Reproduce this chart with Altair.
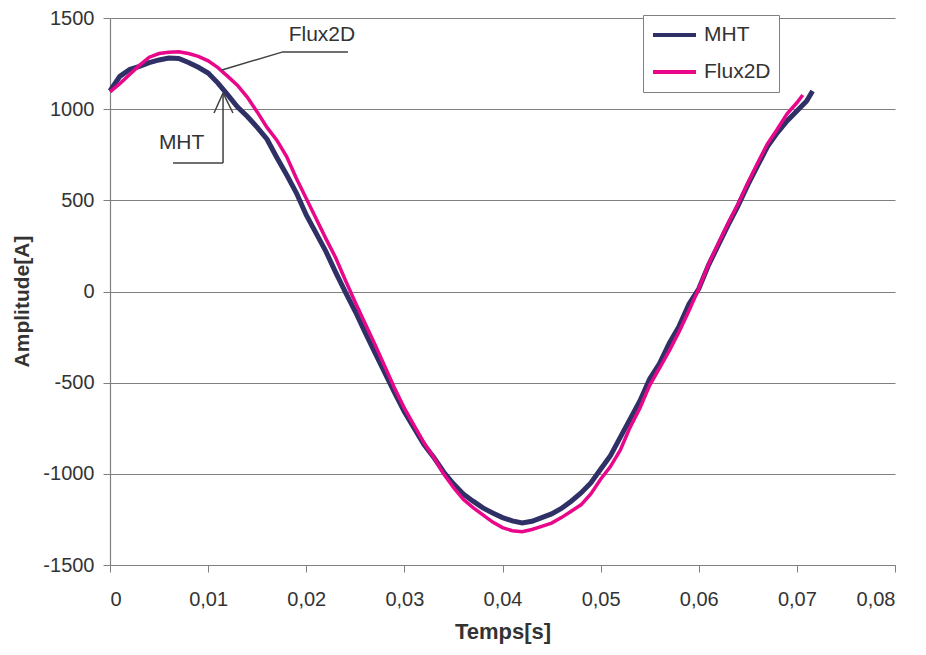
import altair as alt
import pandas as pd

# ---- data ----
t_mht = [0.000, 0.001, 0.002, 0.003, 0.004, 0.005, 0.006, 0.007, 0.008, 0.009,
         0.010, 0.011, 0.012, 0.013, 0.014, 0.015, 0.016, 0.017, 0.018, 0.019,
         0.020, 0.021, 0.022, 0.023, 0.024, 0.025, 0.026, 0.027, 0.028, 0.029,
         0.030, 0.031, 0.032, 0.033, 0.034, 0.035, 0.036, 0.037, 0.038, 0.039,
         0.040, 0.041, 0.042, 0.043, 0.044, 0.045, 0.046, 0.047, 0.048, 0.049,
         0.050, 0.051, 0.052, 0.053, 0.054, 0.055, 0.056, 0.057, 0.058, 0.059,
         0.060, 0.061, 0.062, 0.063, 0.064, 0.065, 0.066, 0.067, 0.068, 0.069,
         0.070, 0.071, 0.0716]
v_mht = [1100, 1180, 1218, 1235, 1255, 1270, 1280, 1278, 1256, 1230,
         1198, 1143, 1078, 1012, 960, 900, 835, 735, 640, 540,
         420, 320, 220, 105, -5, -110, -225, -335, -445, -555,
         -660, -750, -840, -910, -990, -1055, -1110, -1150, -1187, -1215,
         -1240, -1258, -1270, -1260, -1240, -1220, -1190, -1150, -1105, -1050,
         -975, -900, -800, -700, -600, -480, -395, -283, -190, -70,
         15, 145, 255, 365, 470, 585, 690, 795, 870, 935,
         990, 1045, 1100]

t_flux = [0.000, 0.001, 0.002, 0.003, 0.004, 0.005, 0.006, 0.007, 0.008, 0.009,
          0.010, 0.011, 0.012, 0.013, 0.014, 0.015, 0.016, 0.017, 0.018, 0.019,
          0.020, 0.021, 0.022, 0.023, 0.024, 0.025, 0.026, 0.027, 0.028, 0.029,
          0.030, 0.031, 0.032, 0.033, 0.034, 0.035, 0.036, 0.037, 0.038, 0.039,
          0.040, 0.041, 0.042, 0.043, 0.044, 0.045, 0.046, 0.047, 0.048, 0.049,
          0.050, 0.051, 0.052, 0.053, 0.054, 0.055, 0.056, 0.057, 0.058, 0.059,
          0.060, 0.061, 0.062, 0.063, 0.064, 0.065, 0.066, 0.067, 0.068, 0.069,
          0.070, 0.0706]
v_flux = [1095, 1140, 1190, 1240, 1285, 1305, 1312, 1315, 1305, 1290,
          1265, 1228, 1180, 1130, 1065, 985, 900, 830, 740, 620,
          510, 400, 290, 185, 60, -60, -175, -290, -410, -530,
          -640, -735, -830, -910, -1000, -1075, -1140, -1185, -1225, -1265,
          -1295, -1312, -1318, -1305, -1288, -1270, -1240, -1205, -1170, -1110,
          -1030, -960, -870, -745, -640, -515, -420, -325, -220, -105,
          15, 150, 265, 375, 480, 595, 705, 810, 890, 975,
          1035, 1078]

series = ["MHT", "Flux2D"]
colors = ["#2E3066", "#E8078A"]

# annotation labels and leader lines (data coordinates)
ann_text = ["Flux2D", "MHT"]
ann_tx = [0.0216, 0.0073]
ann_ty = [1407, 814]
seg_x1 = [0.02425, 0.01753, 0.00642, 0.01152, 0.01060, 0.01253]
seg_y1 = [1313, 1313, 705, 705, 979, 979]
seg_x2 = [0.01753, 0.01141, 0.01152, 0.01152, 0.01152, 0.01152]
seg_y2 = [1313, 1215, 705, 1089, 1089, 1089]

df_mht = pd.DataFrame({"t": t_mht, "v": v_mht, "s": "MHT"})
df_flux = pd.DataFrame({"t": t_flux, "v": v_flux, "s": "Flux2D"})
df_ann = pd.DataFrame({"label": ann_text, "x": ann_tx, "y": ann_ty})
df_seg = pd.DataFrame({"x": seg_x1, "y": seg_y1, "x2": seg_x2, "y2": seg_y2})

FONT = "Liberation Sans"

xscale = alt.Scale(domain=[0, 0.08], nice=False, zero=False)
yscale = alt.Scale(domain=[-1500, 1500], nice=False)
cscale = alt.Scale(domain=series, range=colors)

xaxis = alt.Axis(
    title="Temps[s]", values=[0, 0.01, 0.02, 0.03, 0.04, 0.05, 0.06, 0.07, 0.08],
    labelExpr="datum.value == 0 ? '0' : replace(format(datum.value, '.2f'), '.', ',')",
    grid=False, tickSize=7, labelPadding=17, titleY=66, titleBaseline="middle",
    titleFontSize=22,
)
yaxis = alt.Axis(
    title="Amplitude[A]", values=[-1500, -1000, -500, 0, 500, 1000, 1500],
    labelExpr="'' + datum.value", grid=True, tickSize=7, labelPadding=9,
    titleX=-88, titleY=283, titleBaseline="middle", titleFontSize=21,
)

legend = alt.Legend(
    title=None, orient="none", legendX=533, legendY=-3,
    fillColor="white", strokeColor="#808080", padding=8,
    symbolType="stroke", symbolSize=1849, symbolStrokeWidth=4,
    labelFontSize=21, labelFont=FONT, labelColor="#333333",
    clipHeight=24, rowPadding=13, labelOffset=6,
)

base_x = alt.X("t:Q", scale=xscale, axis=xaxis)
base_y = alt.Y("v:Q", scale=yscale, axis=yaxis)

line_mht = alt.Chart(df_mht).mark_line(strokeWidth=5).encode(
    x=base_x, y=base_y,
    color=alt.Color("s:N", scale=cscale, legend=legend),
)
line_flux = alt.Chart(df_flux).mark_line(strokeWidth=3.5).encode(
    x=base_x, y=base_y,
    color=alt.Color("s:N", scale=cscale, legend=legend),
)

segs = alt.Chart(df_seg).mark_rule(color="#404040", strokeWidth=1.5).encode(
    x="x:Q", y="y:Q", x2="x2:Q", y2="y2:Q"
)
texts = alt.Chart(df_ann).mark_text(font=FONT, fontSize=21, color="#333333").encode(
    x="x:Q", y="y:Q", text="label:N"
)

chart = alt.layer(line_mht, line_flux, segs, texts).properties(
    width=785, height=547, autosize="none",
    padding={"left": 102, "top": 10, "right": 23, "bottom": 82},
).configure_view(stroke=None).configure_axis(
    labelFont=FONT, titleFont=FONT, labelFontSize=20,
    labelColor="#333333", titleColor="#333333", titleFontWeight="bold",
    domainColor="#808080", tickColor="#808080", gridColor="#808080",
    gridWidth=1, domainWidth=1.2,
)

chart.save("out.html", embed_options={"renderer": "svg", "actions": False})
